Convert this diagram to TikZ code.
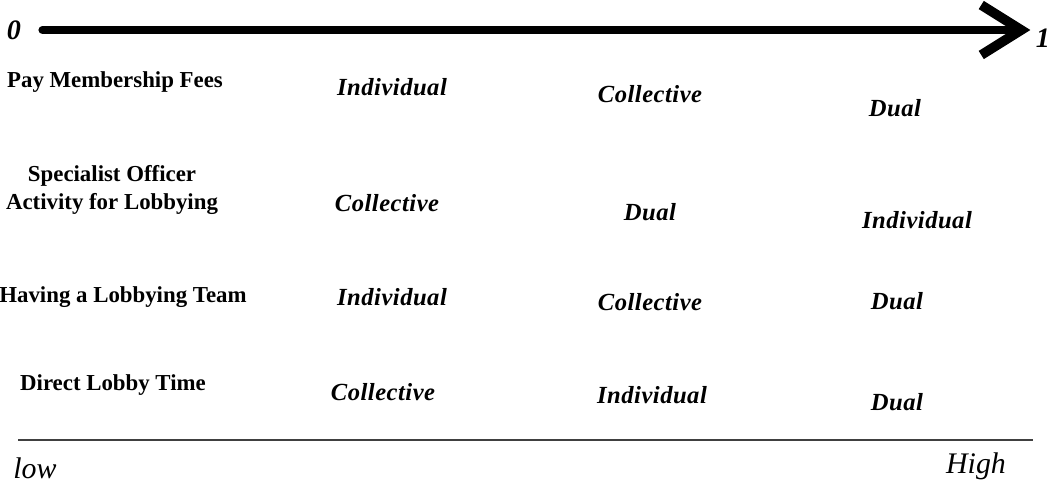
\documentclass[tikz,border=0pt]{standalone}
\usepackage{fontspec}
\setmainfont{Liberation Serif}
\newfontfamily\spacedfont[LetterSpace=2]{Liberation Serif}
\usepackage{tikz}
\usetikzlibrary{arrows.meta}

\begin{document}
\begin{tikzpicture}[
    x=0.02cm,y=-0.02cm,
    activity/.style={font=\fontsize{13}{16}\selectfont\bfseries,align=center,inner sep=0pt},
    level/.style={font=\spacedfont\fontsize{14}{16}\selectfont\bfseries\itshape,inner sep=0pt},
    endlabel/.style={font=\fontsize{16}{18}\selectfont\bfseries\itshape,inner sep=0pt},
    scalelabel/.style={font=\fontsize{17}{20}\selectfont\itshape,inner sep=0pt},
    axis/.style={line width=4.6pt,line cap=round,-{Straight Barb[length=8mm,width=10mm,line width=5.5pt]}},
    baseline/.style={line width=0.9pt,color=black!75}
  ]
    \useasboundingbox (0,0) rectangle (1054,488);

    % axis from 0 to 1
    \node[endlabel] (zero) at (14,30) {0};
    \node[endlabel] (one) at (1043,38) {1};
    \draw[axis,shorten <=12pt,shorten >=3pt] (zero.east) -- (one.west |- zero.east);

    % activities
    \node[activity] (fees) at (115,82) {Pay Membership Fees};
    \node[activity] (officer) at (112,190) {Specialist Officer\\Activity for Lobbying};
    \node[activity] (team) at (123,297) {Having a Lobbying Team};
    \node[activity] (time) at (113,385) {Direct Lobby Time};

    % row 1
    \node[level] (fees1) at (392,87) {Individual};
    \node[level] (fees2) at (650,94) {Collective};
    \node[level] (fees3) at (895,108) {Dual};

    % row 2
    \node[level] (officer1) at (387,203) {Collective};
    \node[level] (officer2) at (650,212) {Dual};
    \node[level] (officer3) at (917,220) {Individual};

    % row 3
    \node[level] (team1) at (392,297) {Individual};
    \node[level] (team2) at (650,302) {Collective};
    \node[level] (team3) at (897,301) {Dual};

    % row 4
    \node[level] (time1) at (383,392) {Collective};
    \node[level] (time2) at (652,395) {Individual};
    \node[level] (time3) at (897,402) {Dual};

    % low -- high scale
    \coordinate (lowend) at (18,440);
    \coordinate (highend) at (1033,440);
    \draw[baseline] (lowend) -- (highend);
    \node[scalelabel] (low) at (35,468) {low};
    \node[scalelabel] (high) at (976,466) {High};
\end{tikzpicture}
\end{document}
